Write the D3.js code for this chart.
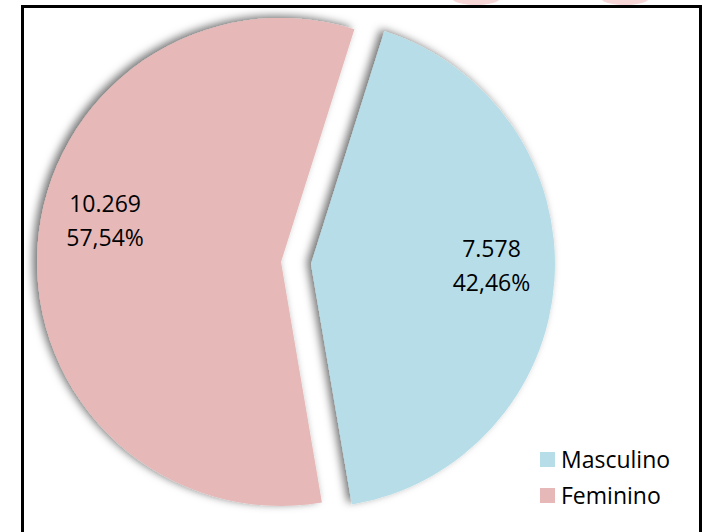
<!DOCTYPE html>
<html>
<head>
<meta charset="utf-8">
<script src="https://d3js.org/d3.v7.min.js"></script>
<style>
  body { margin: 0; background: #fff; }
  svg { display: block; font-family: "Open Sans", "Noto Sans", sans-serif; }
</style>
</head>
<body>
<div id="chart"></div>
<script>
// data
var categories = ["Masculino", "Feminino"];
var counts = [7578, 10269];
var colors = ["#b7dee8", "#e6b9b8"];

var width = 703, height = 532;
var cx = 296, cy = 263, radius = 244;
var explode = 15;
var startDeg = 17.5;
var labelRadius = 0.74;
var labelNudgeDeg = [-3, 9];   // small tweaks so labels sit like the original

var total = d3.sum(counts);
var fmtNum = d3.formatLocale({ decimal: ",", thousands: ".", grouping: [3], currency: ["", ""] });
var fmtCount = fmtNum.format(",d");
var fmtPct = fmtNum.format(".2f");

var svg = d3.select("#chart").append("svg")
    .attr("width", width)
    .attr("height", height);

// faint leftovers above the frame
svg.append("g").attr("fill", "#f6d6d6")
  .selectAll("ellipse")
  .data([[476, 24], [625, 24]])
  .enter().append("ellipse")
    .attr("cx", function(d) { return d[0]; })
    .attr("cy", -2)
    .attr("rx", function(d) { return d[1]; })
    .attr("ry", 7);

// frame
svg.append("rect")
    .attr("x", 22.5).attr("y", 6.5)
    .attr("width", 678).attr("height", 600)
    .attr("fill", "#fff")
    .attr("stroke", "#000")
    .attr("stroke-width", 3);

// shadow filter
var defs = svg.append("defs");
var f = defs.append("filter").attr("id", "shadow")
    .attr("x", "-20%").attr("y", "-20%").attr("width", "140%").attr("height", "140%");
f.append("feDropShadow")
    .attr("dx", -4).attr("dy", -2)
    .attr("stdDeviation", 4)
    .attr("flood-color", "#000")
    .attr("flood-opacity", 0.55);

var start = startDeg * Math.PI / 180;
var pie = d3.pie().sort(null).startAngle(start).endAngle(start + 2 * Math.PI);
var arcs = pie(counts);

var arc = d3.arc().innerRadius(0).outerRadius(radius);

function offset(d) {
  var mid = (d.startAngle + d.endAngle) / 2;
  return [explode * Math.sin(mid), -explode * Math.cos(mid)];
}

var slices = svg.append("g").attr("transform", "translate(" + cx + "," + cy + ")");

slices.selectAll("path")
  .data(arcs)
  .enter().append("path")
    .attr("d", arc)
    .attr("fill", function(d, i) { return colors[i]; })
    .attr("filter", "url(#shadow)")
    .attr("transform", function(d) { var o = offset(d); return "translate(" + o[0] + "," + o[1] + ")"; });

// labels
var labels = slices.selectAll("g.label")
  .data(arcs)
  .enter().append("g")
    .attr("class", "label")
    .attr("transform", function(d, i) {
      var o = offset(d);
      var a = (d.startAngle + d.endAngle) / 2 + labelNudgeDeg[i] * Math.PI / 180;
      var r = radius * labelRadius;
      return "translate(" + (o[0] + r * Math.sin(a)) + "," + (o[1] - r * Math.cos(a)) + ")";
    });

labels.append("text")
    .attr("text-anchor", "middle")
    .attr("y", -10)
    .attr("font-size", 23)
    .attr("fill", "#000")
    .text(function(d, i) { return fmtCount(counts[i]); });

labels.append("text")
    .attr("text-anchor", "middle")
    .attr("y", 24)
    .attr("font-size", 23)
    .attr("fill", "#000")
    .text(function(d, i) { return fmtPct(counts[i] / total * 100) + "%"; });

// legend
var legend = svg.append("g").attr("transform", "translate(540,452)");
var item = legend.selectAll("g")
  .data(categories)
  .enter().append("g")
    .attr("transform", function(d, i) { return "translate(0," + (i * 36) + ")"; });

item.append("rect")
    .attr("width", 15).attr("height", 15)
    .attr("fill", function(d, i) { return colors[i]; });

item.append("text")
    .attr("x", 21).attr("y", 15.5)
    .attr("font-size", 23)
    .attr("fill", "#000")
    .text(function(d) { return d; });
</script>
</body>
</html>
